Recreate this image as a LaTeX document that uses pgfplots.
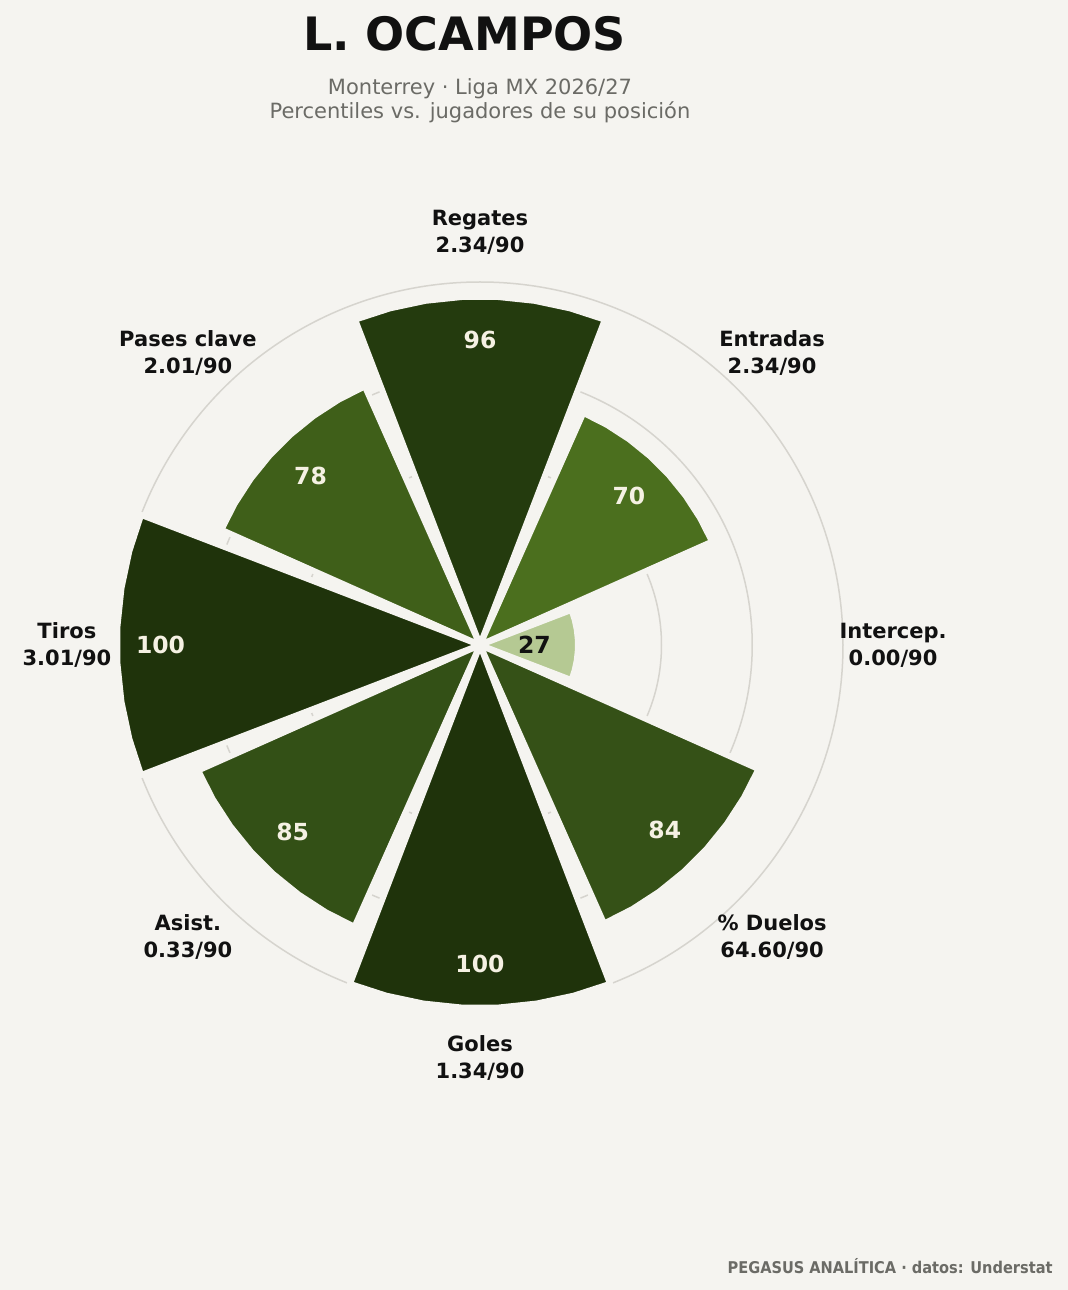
\documentclass[border=0pt]{standalone}
\usepackage{fontspec}
\setmainfont{DejaVu Sans}
\newfontfamily\condfont{DejaVu Sans Condensed}
\usepackage{pgfplots}
\pgfplotsset{compat=1.18}
\usepgfplotslibrary{polar}
\definecolor{bg}{HTML}{F5F4F0}
\definecolor{titlec}{HTML}{111111}
\definecolor{subc}{HTML}{6B6B66}
\definecolor{gridc}{HTML}{D6D4CE}
\definecolor{cream}{HTML}{F5F1E3}
\definecolor{cA}{HTML}{1F330B}
\definecolor{cB}{HTML}{243B0E}
\definecolor{cC}{HTML}{335016}
\definecolor{cD}{HTML}{355117}
\definecolor{cE}{HTML}{3F5F19}
\definecolor{cF}{HTML}{4B6F1E}
\definecolor{cG}{HTML}{B5C993}
\begin{document}
\begin{tikzpicture}[x=0.5pt,y=0.5pt]
\fill[bg] (0,0) rectangle (1068,1290);
\coordinate (C) at (480,645);
\node[anchor=base, inner sep=0pt, font=\fontsize{23}{28}\selectfont\bfseries, text=titlec] at (464.5,1239) {L. OCAMPOS};
\node[anchor=base, inner sep=0pt, font=\fontsize{10.5}{13}\selectfont, text=subc] at (480,1195) {Monterrey · Liga MX 2026/27};
\node[anchor=base, inner sep=0pt, font=\fontsize{10.5}{13}\selectfont, text=subc] at (480,1171) {Percentiles vs. jugadores de su posición};
\node[anchor=base east, inner sep=0pt, font=\condfont\bfseries\fontsize{8.1}{10}\selectfont, text=subc] at (1053,16.5) {PEGASUS ANALÍTICA · datos: Understat};
\begin{polaraxis}[at={(C)}, anchor=origin, scale only axis, width=363pt, height=363pt,
  ymin=0, ymax=100, xtick=\empty, ytick={50,75,100}, yticklabels={},
  ymajorgrids, grid style={draw=gridc, line width=0.75pt},
  axis line style={draw=none}, major tick length=0pt, clip=false]
\pgfplotsset{barstyle/.style={draw=bg, line width=3pt, line join=round}}
% Regates 96
\addplot[barstyle, fill=cB] coordinates {(0,0) (69,96) (75,96) (81,96) (87,96) (93,96) (99,96) (105,96) (111,96)} --cycle;
% Entradas 70
\addplot[barstyle, fill=cF] coordinates {(0,0) (24,70) (30,70) (36,70) (42,70) (48,70) (54,70) (60,70) (66,70)} --cycle;
% Intercep 27
\addplot[barstyle, fill=cG] coordinates {(0,0) (-21,27) (-15,27) (-9,27) (-3,27) (3,27) (9,27) (15,27) (21,27)} --cycle;
% Duelos 84
\addplot[barstyle, fill=cD] coordinates {(0,0) (-66,84) (-60,84) (-54,84) (-48,84) (-42,84) (-36,84) (-30,84) (-24,84)} --cycle;
% Goles 100
\addplot[barstyle, fill=cA] coordinates {(0,0) (-111,100) (-105,100) (-99,100) (-93,100) (-87,100) (-81,100) (-75,100) (-69,100)} --cycle;
% Asist 85
\addplot[barstyle, fill=cC] coordinates {(0,0) (-156,85) (-150,85) (-144,85) (-138,85) (-132,85) (-126,85) (-120,85) (-114,85)} --cycle;
% Tiros 100
\addplot[barstyle, fill=cA] coordinates {(0,0) (159,100) (165,100) (171,100) (177,100) (183,100) (189,100) (195,100) (201,100)} --cycle;
% Pases clave 78
\addplot[barstyle, fill=cE] coordinates {(0,0) (114,78) (120,78) (126,78) (132,78) (138,78) (144,78) (150,78) (156,78)} --cycle;
% value labels
\addplot[only marks, mark=none, nodes near coords, point meta=explicit symbolic,
  every node near coord/.append style={anchor=center, text=cream, font=\fontsize{11.75}{14}\selectfont\bfseries}]
  table[meta=lab] {
x y lab
90 84 96
45 58 70
-45 72 84
-90 88 100
-135 73 85
180 88 100
135 66 78
};
\addplot[only marks, mark=none, nodes near coords, point meta=explicit symbolic,
  every node near coord/.append style={anchor=center, text=titlec, font=\fontsize{11.75}{14}\selectfont\bfseries}]
  table[meta=lab] {
x y lab
0 15 27
};
\tikzset{catlab/.style={align=center, anchor=center, text=titlec, font=\fontsize{10.5}{13.5}\selectfont\bfseries}}
\node[catlab] at (axis cs:90,113.8) {Regates\\2.34/90};
\node[catlab] at (axis cs:45,113.8) {Entradas\\2.34/90};
\node[catlab] at (axis cs:0,113.8) {Intercep.\\0.00/90};
\node[catlab] at (axis cs:-45,113.8) {\% Duelos\\64.60/90};
\node[catlab] at (axis cs:-90,113.8) {Goles\\1.34/90};
\node[catlab] at (axis cs:-135,113.8) {Asist.\\0.33/90};
\node[catlab] at (axis cs:180,113.8) {Tiros\\3.01/90};
\node[catlab] at (axis cs:135,113.8) {Pases clave\\2.01/90};
\end{polaraxis}
\pgfresetboundingbox
\useasboundingbox (0,0) rectangle (1068,1290);
\end{tikzpicture}
\end{document}
